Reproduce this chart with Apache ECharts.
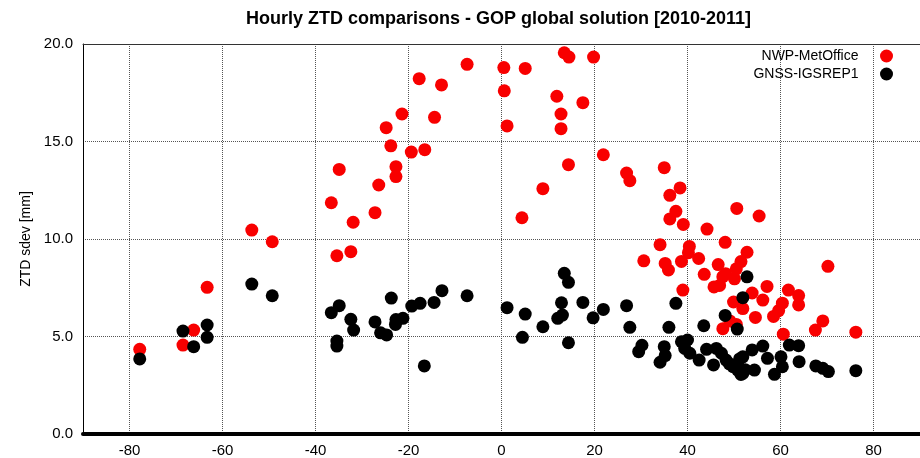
<!DOCTYPE html>
<html>
<head>
<meta charset="utf-8">
<script src="https://cdn.jsdelivr.net/npm/echarts@6/dist/echarts.min.js"></script>
<style>
  html, body { margin: 0; padding: 0; background: #fff; }
  #chart { width: 920px; height: 458px; }
</style>
</head>
<body>
<div id="chart"></div>
<script>
// Latitude (deg) vs hourly ZTD standard deviation (mm), per station
const nwpMetOffice = [
  [-77.8, 4.34], [-68.5, 4.56], [-66.2, 5.33], [-63.3, 7.52], [-53.7, 10.46],
  [-49.3, 9.86], [-36.6, 11.86], [-35.4, 9.14], [-34.9, 13.57], [-32.4, 9.35],
  [-31.9, 10.86], [-27.2, 11.35], [-26.4, 12.77], [-24.8, 15.71], [-23.8, 14.78],
  [-22.7, 13.71], [-22.7, 13.2], [-21.4, 16.41], [-19.4, 14.46], [-17.7, 18.22],
  [-16.5, 14.58], [-14.4, 16.24], [-12.9, 17.9], [-7.4, 18.96], [0.5, 18.79],
  [0.6, 17.6], [1.2, 15.8], [4.4, 11.09], [5.1, 18.75], [8.9, 12.58],
  [11.9, 17.32], [12.8, 16.41], [12.8, 15.66], [13.5, 19.55], [14.5, 19.33],
  [14.4, 13.81], [17.5, 16.99], [19.8, 19.33], [21.9, 14.32], [26.9, 13.38],
  [27.6, 12.99], [30.6, 8.88], [34.1, 9.71], [35.0, 13.66], [35.2, 8.75],
  [35.9, 8.41], [36.2, 12.24], [36.2, 11.03], [37.5, 11.42], [38.4, 12.62],
  [38.7, 8.85], [39.0, 7.38], [39.1, 10.75], [40.4, 9.62], [40.2, 9.3],
  [42.4, 9.0], [43.6, 8.19], [44.2, 10.51], [45.7, 7.54], [46.6, 8.69],
  [46.9, 7.62], [47.6, 8.07], [47.6, 5.4], [48.1, 9.83], [48.2, 8.22],
  [49.1, 5.8], [49.9, 6.77], [50.1, 7.96], [50.5, 8.47], [50.5, 5.62],
  [50.6, 11.57], [51.5, 8.84], [51.9, 6.43], [52.8, 9.32], [53.9, 7.23],
  [54.6, 5.98], [55.4, 11.18], [56.2, 6.87], [57.1, 7.57], [58.5, 6.03],
  [59.6, 6.33], [60.4, 6.71], [60.6, 5.12], [61.7, 7.38], [63.9, 7.1],
  [63.9, 6.62], [67.5, 5.33], [69.1, 5.8], [70.2, 8.6], [76.2, 5.22]
];

const gnssIgsRep1 = [
  [-77.8, 3.85], [-68.5, 5.28], [-66.2, 4.48], [-63.3, 5.59], [-63.3, 4.96],
  [-53.7, 7.69], [-49.3, 7.09], [-36.6, 6.22], [-34.9, 6.58], [-35.4, 4.77],
  [-35.4, 4.51], [-32.4, 5.88], [-31.8, 5.33], [-27.2, 5.75], [-26.0, 5.19],
  [-24.7, 5.08], [-23.7, 6.97], [-22.8, 5.62], [-22.7, 5.87], [-21.2, 5.93],
  [-19.3, 6.56], [-17.5, 6.7], [-16.6, 3.49], [-14.5, 6.75], [-12.8, 7.35],
  [-7.4, 7.09], [1.2, 6.48], [4.5, 4.96], [5.1, 6.15], [8.9, 5.5],
  [12.1, 5.93], [13.1, 6.1], [12.9, 6.73], [13.5, 8.24], [14.4, 7.78],
  [14.4, 4.68], [17.5, 6.75], [19.7, 5.96], [21.9, 6.39], [26.9, 6.58],
  [27.6, 5.47], [29.5, 4.22], [30.2, 4.55], [34.1, 3.68], [35.0, 4.48],
  [35.2, 4.02], [36.0, 5.47], [37.5, 6.7], [38.7, 4.73], [39.4, 4.39],
  [40.0, 4.82], [40.5, 4.14], [42.5, 3.79], [43.5, 5.55], [44.1, 4.34],
  [45.6, 3.54], [46.2, 4.39], [47.3, 4.14], [48.1, 6.08], [48.3, 3.79],
  [49.0, 3.6], [49.8, 3.45], [50.2, 3.5], [50.7, 5.38], [50.8, 3.28],
  [51.2, 3.85], [51.5, 3.05], [51.9, 3.96], [51.9, 3.11], [51.9, 6.99],
  [52.4, 3.3], [52.8, 8.06], [53.9, 4.31], [54.4, 3.28], [56.2, 4.51],
  [57.2, 3.88], [58.7, 3.06], [60.1, 3.96], [60.4, 3.45], [61.9, 4.56],
  [63.9, 4.53], [64.0, 3.71], [67.6, 3.49], [69.1, 3.37], [70.3, 3.2],
  [76.2, 3.25]
];

const xTickValues = [-80, -60, -40, -20, 0, 20, 40, 60, 80];
const seriesNames = ['NWP-MetOffice', 'GNSS-IGSREP1'];

const FONT = 'Liberation Sans, Arial, Helvetica, sans-serif';

const chart = echarts.init(document.getElementById('chart'), null, { renderer: 'canvas' });

const gridLineStyle = { color: '#555', width: 1, type: [1, 1] };

chart.setOption({
  animation: false,
  backgroundColor: '#fff',
  title: {
    text: 'Hourly ZTD comparisons - GOP global solution [2010-2011]',
    left: 246,
    top: 10,
    padding: 0,
    textStyle: { fontFamily: FONT, fontSize: 18, fontWeight: 'bold', color: '#000' }
  },
  legend: {
    orient: 'vertical',
    align: 'right',
    right: 27,
    top: 49,
    padding: 0,
    itemGap: 4,
    itemWidth: 46,
    itemHeight: 13,
    icon: 'circle',
    textStyle: { fontFamily: FONT, fontSize: 14, color: '#000' },
    data: seriesNames
  },
  grid: { left: 83, right: -5, top: 44, bottom: 24, containLabel: false },
  xAxis: [
    {
      type: 'value',
      min: -90,
      max: 90,
      axisLine: { show: true, onZero: false, lineStyle: { color: '#000', width: 4 } },
      axisTick: { show: false, customValues: xTickValues },
      axisLabel: {
        customValues: xTickValues,
        margin: 9,
        fontFamily: FONT,
        fontSize: 15,
        color: '#000'
      },
      splitLine: { show: true, lineStyle: gridLineStyle }
    },
    {
      type: 'value',
      position: 'top',
      min: -90,
      max: 90,
      axisLine: { show: true, onZero: false, lineStyle: { color: '#333', width: 1 } },
      axisTick: { show: false },
      axisLabel: { show: false },
      splitLine: { show: false }
    }
  ],
  yAxis: {
    type: 'value',
    min: 0,
    max: 20,
    interval: 5,
    name: 'ZTD sdev [mm]',
    nameLocation: 'middle',
    nameGap: 43,
    nameTextStyle: { fontFamily: FONT, fontSize: 14, color: '#000' },
    axisLine: { show: true, onZero: false, lineStyle: { color: '#000', width: 1 } },
    axisTick: { show: false },
    axisLabel: {
      margin: 10,
      fontFamily: FONT,
      fontSize: 15,
      color: '#000',
      formatter: v => v.toFixed(1)
    },
    splitLine: { show: true, lineStyle: gridLineStyle }
  },
  series: [
    {
      name: seriesNames[0],
      type: 'scatter',
      xAxisIndex: 0,
      symbol: 'circle',
      symbolSize: 13,
      itemStyle: { color: '#f80000', opacity: 1 },
      data: nwpMetOffice
    },
    {
      name: seriesNames[1],
      type: 'scatter',
      xAxisIndex: 0,
      symbol: 'circle',
      symbolSize: 13,
      itemStyle: { color: '#000', opacity: 1 },
      data: gnssIgsRep1
    }
  ]
});
</script>
</body>
</html>
